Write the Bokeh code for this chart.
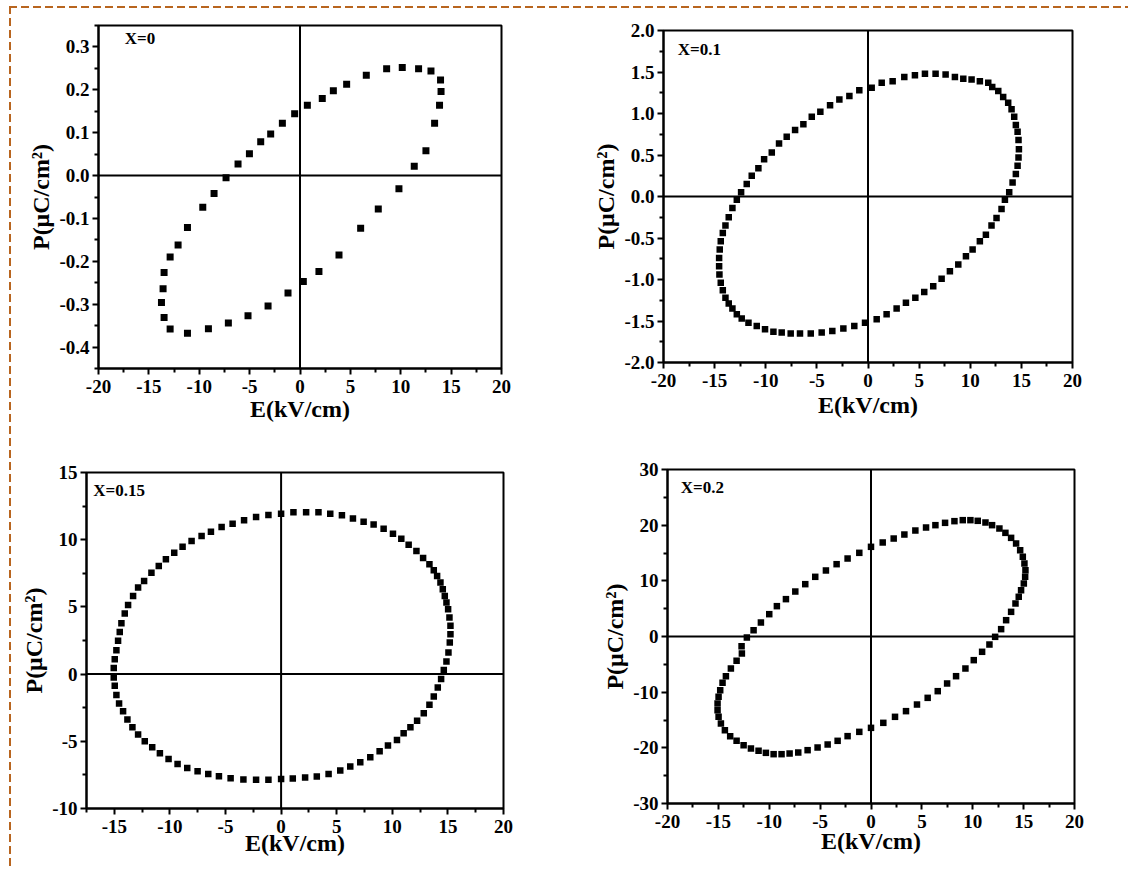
from bokeh.plotting import figure
from bokeh.layouts import column, row
from bokeh.models import FixedTicker, Span, Label, Range1d, NumeralTickFormatter
from bokeh.embed import file_html
from bokeh.resources import INLINE

# ---------------- data ----------------
# X = 0
e_x0 = [-13.49, -12.89, -12.10, -11.17, -9.65, -8.53, -7.34, -6.15, -5.02, -3.90,
        -2.91, -1.75, -0.53, 0.73, 2.21, 3.31, 4.63, 6.58, 8.60, 10.15,
        11.77, 13.00, 13.95, 14.00, 13.85, 13.36, 12.50, 11.34, 9.82, 7.77,
        6.02, 3.87, 1.88, 0.33, -1.19, -3.17, -5.16, -7.11, -9.09, -11.17,
        -12.89, -13.49, -13.75, -13.59]
p_x0 = [-0.226, -0.190, -0.162, -0.121, -0.074, -0.042, -0.005, 0.027, 0.051, 0.079,
        0.097, 0.122, 0.144, 0.164, 0.180, 0.198, 0.213, 0.234, 0.249, 0.252,
        0.249, 0.244, 0.223, 0.196, 0.164, 0.122, 0.058, 0.022, -0.031, -0.078,
        -0.123, -0.185, -0.224, -0.247, -0.274, -0.304, -0.327, -0.344, -0.357, -0.368,
        -0.358, -0.331, -0.296, -0.264]

# X = 0.1
e_x01 = [6.61, 5.57, 4.59, 3.55, 2.41, 1.34, 0.36, -0.85, -1.82, -2.80,
         -3.71, -4.66, -5.50, -6.32, -7.13, -7.95, -8.70, -9.41, -10.16, -10.72,
         -11.37, -11.86, -12.41, -12.83, -13.26, -13.62, -13.94, -14.20, -14.40, -14.50,
         -14.56, -14.56, -14.53, -14.40, -14.20, -13.94, -13.62, -13.26, -12.83, -12.35,
         -11.69, -10.88, -10.07, -9.25, -8.44, -7.56, -6.65, -5.60, -4.53, -3.49,
         -2.41, -1.34, -0.29, 0.85, 1.82, 2.80, 3.71, 4.63, 5.50, 6.38,
         7.20, 8.01, 8.83, 9.58, 10.23, 10.94, 11.53, 12.08, 12.57, 13.06,
         13.39, 13.81, 14.14, 14.46, 14.63, 14.72, 14.76, 14.72, 14.63, 14.46,
         14.30, 14.04, 13.71, 13.22, 12.74, 12.15, 11.76, 10.94, 10.13, 9.32,
         8.50, 7.59]
p_x01 = [1.48, 1.48, 1.46, 1.44, 1.39, 1.37, 1.31, 1.28, 1.21, 1.17,
         1.10, 1.02, 0.96, 0.87, 0.80, 0.72, 0.64, 0.53, 0.45, 0.34,
         0.25, 0.15, 0.05, -0.04, -0.14, -0.25, -0.35, -0.44, -0.54, -0.64,
         -0.74, -0.84, -0.94, -1.04, -1.13, -1.22, -1.29, -1.35, -1.42, -1.47,
         -1.52, -1.56, -1.60, -1.63, -1.64, -1.65, -1.65, -1.65, -1.64, -1.62,
         -1.59, -1.56, -1.52, -1.48, -1.42, -1.35, -1.28, -1.22, -1.15, -1.08,
         -0.99, -0.90, -0.82, -0.72, -0.64, -0.54, -0.46, -0.35, -0.26, -0.15,
         -0.04, 0.05, 0.17, 0.27, 0.37, 0.47, 0.57, 0.68, 0.78, 0.86,
         0.96, 1.05, 1.13, 1.20, 1.27, 1.32, 1.37, 1.39, 1.41, 1.42,
         1.44, 1.47]

# X = 0.15
e_x015 = [0.00, 1.11, 2.25, 3.36, 4.42, 5.47, 6.46, 7.42, 8.32, 9.22,
          10.06, 10.81, 11.47, 12.17, 12.77, 13.34, 13.73, 14.03, 14.33, 14.54,
          14.72, 14.87, 15.02, 15.14, 15.23, 15.23, 15.17, 15.05, 14.87, 14.63,
          14.39, 14.09, 13.73, 13.34, 12.83, 12.23, 11.63, 11.02, 10.42, 9.61,
          8.86, 8.02, 7.12, 6.22, 5.32, 4.27, 3.21, 2.16, 1.05, 0.00,
          -1.14, -2.25, -3.39, -4.54, -5.59, -6.55, -7.51, -8.44, -9.31, -10.12,
          -10.90, -11.59, -12.26, -12.86, -13.37, -13.82, -14.21, -14.57, -14.81, -14.96,
          -15.05, -15.05, -14.96, -14.81, -14.66, -14.51, -14.36, -14.06, -13.76, -13.31,
          -12.86, -12.32, -11.66, -11.00, -10.36, -9.61, -8.86, -8.05, -7.15, -6.31,
          -5.35, -4.36, -3.33, -2.25, -1.14]
p_x015 = [11.93, 12.05, 12.05, 12.05, 11.93, 11.81, 11.58, 11.34, 11.14, 10.82,
          10.45, 10.07, 9.63, 9.16, 8.64, 8.17, 7.72, 7.30, 6.81, 6.31,
          5.82, 5.32, 4.83, 4.21, 3.59, 2.97, 2.35, 1.61, 0.94, 0.30,
          -0.37, -0.99, -1.66, -2.28, -2.92, -3.47, -3.96, -4.41, -4.90, -5.32,
          -5.74, -6.19, -6.56, -6.88, -7.18, -7.43, -7.62, -7.70, -7.76, -7.80,
          -7.87, -7.87, -7.85, -7.75, -7.60, -7.43, -7.23, -6.98, -6.68, -6.31,
          -5.89, -5.45, -5.00, -4.50, -3.96, -3.37, -2.77, -2.18, -1.56, -0.87,
          -0.25, 0.45, 1.11, 1.78, 2.48, 3.14, 3.79, 4.50, 5.15, 5.82,
          6.44, 6.93, 7.55, 8.04, 8.54, 9.03, 9.48, 9.90, 10.27, 10.59,
          10.94, 11.19, 11.44, 11.68, 11.83]

# X = 0.2
e_x02 = [-12.20, -11.54, -10.82, -10.00, -9.25, -8.36, -7.44, -6.46, -5.48, -4.43,
         -3.38, -2.30, -1.15, 0.00, 1.15, 2.23, 3.28, 4.36, 5.41, 6.33,
         7.28, 8.20, 9.02, 9.77, 10.49, 11.25, 11.90, 12.62, 13.21, 13.77,
         14.26, 14.66, 14.92, 15.08, 15.18, 15.15, 15.02, 14.75, 14.52, 14.20,
         13.77, 13.28, 12.79, 12.20, 11.64, 10.92, 10.10, 9.28, 8.36, 7.48,
         6.56, 5.57, 4.52, 3.44, 2.36, 1.21, 0.00, -1.15, -2.30, -3.28,
         -4.26, -5.25, -6.23, -7.15, -8.00, -8.79, -9.57, -10.33, -11.05, -11.80,
         -12.52, -13.21, -13.84, -14.36, -14.75, -14.98, -15.08, -15.08, -14.98, -14.82,
         -14.59, -14.26, -13.77, -13.21, -12.69, -12.72]
p_x02 = [-0.18, 1.14, 2.51, 4.01, 5.45, 6.71, 8.08, 9.40, 10.72, 11.86,
         12.99, 14.01, 15.03, 16.11, 16.89, 17.60, 18.32, 19.04, 19.58, 20.00,
         20.42, 20.72, 20.90, 20.90, 20.78, 20.48, 20.00, 19.40, 18.62, 17.72,
         16.71, 15.51, 14.31, 13.11, 11.92, 10.72, 9.52, 8.32, 7.13, 5.93,
         4.43, 2.93, 1.32, -0.06, -1.44, -2.75, -4.25, -5.75, -7.13, -8.44,
         -9.82, -11.02, -12.22, -13.41, -14.43, -15.51, -16.41, -17.13, -17.90, -18.74,
         -19.40, -19.94, -20.42, -20.84, -21.02, -21.14, -21.14, -20.90, -20.54, -20.12,
         -19.52, -18.74, -17.90, -16.83, -15.63, -14.43, -13.23, -12.04, -10.84, -9.64,
         -8.32, -7.13, -5.75, -4.37, -3.05, -1.74]

panel_names = ["X=0", "X=0.1", "X=0.15", "X=0.2"]
x_label = "E(kV/cm)"
y_label = "P(\u03bcC/cm\u00b2)"

FONT = "Liberation Serif"
BORDER = "#b8651f"


def make_panel(xs, ys, xr, yr, xt, xm, yt, ym, yfmt, name, label_xy,
               borders, size, ylab_standoff, xlab_standoff):
    left, right, top, bottom, fw, fh = borders
    p = figure(width=left + fw + right, height=top + fh + bottom,
               x_range=Range1d(*xr), y_range=Range1d(*yr),
               output_backend="svg", toolbar_location=None,
               min_border_left=left, min_border_right=right,
               min_border_top=top, min_border_bottom=bottom)
    p.grid.visible = False
    p.background_fill_color = "white"
    p.border_fill_color = "white"
    p.outline_line_color = "black"
    p.outline_line_width = 2

    p.xaxis.ticker = FixedTicker(ticks=xt, minor_ticks=xm)
    p.yaxis.ticker = FixedTicker(ticks=yt, minor_ticks=ym)
    p.xaxis.formatter = NumeralTickFormatter(format="0")
    p.yaxis.formatter = NumeralTickFormatter(format=yfmt)
    for ax in (p.xaxis[0], p.yaxis[0]):
        ax.axis_line_width = 2
        ax.axis_line_color = "black"
        ax.major_tick_line_width = 2
        ax.minor_tick_line_width = 2
        ax.major_tick_in = 0
        ax.major_tick_out = 6
        ax.minor_tick_in = 0
        ax.minor_tick_out = 4
        ax.major_label_text_font = FONT
        ax.major_label_text_font_style = "bold"
        ax.major_label_text_font_size = "19px"
        ax.major_label_text_color = "black"
        ax.axis_label_text_font = FONT
        ax.axis_label_text_font_style = "bold"
        ax.axis_label_text_font_size = "24px"
        ax.axis_label_text_color = "black"
    p.xaxis.axis_label = x_label
    p.yaxis.axis_label = y_label
    p.xaxis.major_label_standoff = 5
    p.yaxis.major_label_standoff = 3
    p.xaxis.axis_label_standoff = xlab_standoff
    p.yaxis.axis_label_standoff = ylab_standoff

    p.add_layout(Span(location=0, dimension="width", line_color="black", line_width=2))
    p.add_layout(Span(location=0, dimension="height", line_color="black", line_width=2))

    p.scatter(xs, ys, marker="square", size=size, fill_color="black", line_color="black",
              line_width=0)

    p.add_layout(Label(x=label_xy[0], y=label_xy[1], text=name, text_font=FONT,
                       text_font_style="bold", text_font_size="17px",
                       text_baseline="top", text_align="left", text_color="black"))
    return p


f1 = make_panel(e_x0, p_x0, (-20, 20), (-0.45, 0.35),
                list(range(-20, 21, 5)), [v + 2.5 for v in range(-20, 20, 5)],
                [-0.4, -0.3, -0.2, -0.1, 0.0, 0.1, 0.2, 0.3],
                [-0.45, -0.35, -0.25, -0.15, -0.05, 0.05, 0.15, 0.25, 0.35],
                "0.0", panel_names[0], (-17.4, 0.343),
                (87, 70, 17, 62, 403, 343), 7, 2, 0)

f2 = make_panel(e_x01, p_x01, (-20, 20), (-2.0, 2.0),
                list(range(-20, 21, 5)), [v + 2.5 for v in range(-20, 20, 5)],
                [-2.0, -1.5, -1.0, -0.5, 0.0, 0.5, 1.0, 1.5, 2.0],
                [-1.75, -1.25, -0.75, -0.25, 0.25, 0.75, 1.25, 1.75],
                "0.0", panel_names[1], (-18.6, 1.88),
                (92, 56, 22, 68, 409, 332), 6.5, 2, 2)

f3 = make_panel(e_x015, p_x015, (-17.5, 20), (-10, 15),
                list(range(-15, 21, 5)), [v + 2.5 for v in range(-20, 20, 5)],
                list(range(-10, 16, 5)), [-7.5, -2.5, 2.5, 7.5, 12.5],
                "0", panel_names[2], (-16.9, 14.4),
                (75, 68, 42, 53, 417, 336), 6.5, 2, -6)

f4 = make_panel(e_x02, p_x02, (-20, 20), (-30, 30),
                list(range(-20, 21, 5)), [v + 2.5 for v in range(-20, 20, 5)],
                list(range(-30, 31, 10)), [-25, -15, -5, 5, 15, 25],
                "0", panel_names[3], (-18.7, 28.5),
                (96, 54, 39, 58, 407, 334), 6.5, 2, -3)

layout = column(row(column(f1), column(f2)), row(column(f3), column(f4)),
                styles={"margin-top": "6px", "margin-left": "9px",
                        "padding-top": "2px", "padding-left": "2px",
                        "padding-bottom": "6px",
                        "background-image":
                            f"repeating-linear-gradient(to right, {BORDER} 0 8px, transparent 8px 12px),"
                            f"repeating-linear-gradient(to bottom, {BORDER} 0 8px, transparent 8px 12px)",
                        "background-size": "100% 2px, 2px 100%",
                        "background-repeat": "no-repeat",
                        "background-position": "0 0, 0 0"})

open("out.html", "w").write(file_html(layout, INLINE))
